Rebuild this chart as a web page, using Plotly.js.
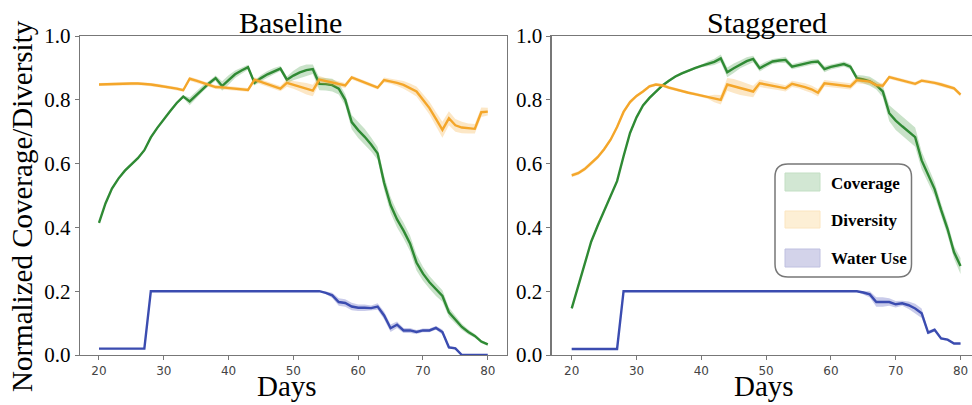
<!DOCTYPE html>
<html>
<head>
<meta charset="utf-8">
<script src="https://cdn.plot.ly/plotly-3.0.1.min.js"></script>
<style>html,body{margin:0;padding:0;background:#fff;}#chart{width:972px;height:405px;}</style>
</head>
<body>
<div id="chart"></div>
<script>
// ---------------- DATA ----------------
const days = [20,21,22,23,24,25,26,27,28,29,30,31,32,33,34,35,36,37,38,39,40,41,42,43,44,45,46,47,48,49,50,
  51,52,53,54,55,56,57,58,59,60,61,62,63,64,65,66,67,68,69,70,71,72,73,74,75,76,77,78,79,80];

const panelTitles = ["Baseline", "Staggered"];
const seriesNames = ["Coverage", "Diversity", "Water Use"];
const xTickVals = [20, 30, 40, 50, 60, 70, 80];
const yTickVals = [0, 0.2, 0.4, 0.6, 0.8, 1.0];

// Baseline
const baseCoverage = [0.414,0.475,0.522,0.553,0.578,0.598,0.617,0.642,0.682,0.712,
  0.740,0.765,0.790,0.810,0.795,0.815,0.835,0.852,0.868,0.843,
  0.862,0.880,0.892,0.902,0.853,0.868,0.880,0.890,0.898,0.863,
  0.876,0.886,0.893,0.896,0.850,0.849,0.846,0.835,0.800,0.730,
  0.705,0.684,0.660,0.632,0.540,0.470,0.425,0.390,0.350,0.290,
  0.255,0.228,0.205,0.185,0.134,0.110,0.088,0.072,0.060,0.042,
  0.033];
const baseCoverageErr = [0.004,0.004,0.004,0.004,0.004,0.004,0.004,0.004,0.004,0.004,0.004,0.004,0.004,0.004,
  0.012,0.012,0.010,0.008,
  0.008,0.015,0.015,0.012,0.010,0.008,
  0.008,0.010,0.010,0.010,0.008,
  0.010,0.015,0.018,0.018,0.015,
  0.020,0.020,0.020,0.018,0.018,
  0.022,0.025,0.025,0.022,0.020,
  0.022,0.025,0.025,0.025,0.025,
  0.025,0.022,0.020,0.020,0.018,
  0.015,0.012,0.010,0.008,0.006,0.005,0.004];

const baseDiversity = [0.848,0.849,0.850,0.850,0.851,0.851,0.851,0.850,0.848,0.845,
  0.842,0.838,0.835,0.830,0.866,0.860,0.853,0.846,0.840,0.839,
  0.837,0.835,0.833,0.831,0.863,0.856,0.849,0.842,0.835,0.853,
  0.847,0.841,0.835,0.829,0.863,0.858,0.853,0.849,0.845,0.870,
  0.862,0.854,0.846,0.838,0.862,0.858,0.853,0.847,0.837,0.826,
  0.800,0.774,0.740,0.706,0.742,0.720,0.713,0.710,0.709,0.761,
  0.763];
const baseDiversityErr = [0.005,0.005,0.005,0.005,0.005,0.005,0.005,0.005,0.005,0.005,0.005,0.005,0.005,0.005,
  0.006,0.006,0.006,0.006,0.006,0.006,0.006,0.006,0.006,0.006,
  0.008,0.008,0.008,0.008,0.008,
  0.012,0.012,0.015,0.018,0.018,
  0.012,0.010,0.010,0.008,0.008,
  0.006,0.006,0.006,0.006,0.006,0.008,0.008,0.010,0.012,0.014,
  0.016,0.018,0.020,0.022,0.025,0.022,0.020,0.018,0.016,0.015,0.015,0.012];

const baseWater = [0.02,0.02,0.02,0.02,0.02,0.02,0.02,0.02,
  0.2,0.2,0.2,0.2,0.2,0.2,0.2,0.2,0.2,0.2,0.2,0.2,0.2,0.2,0.2,0.2,0.2,0.2,0.2,0.2,0.2,0.2,0.2,0.2,0.2,0.2,0.2,
  0.195,0.187,0.166,0.163,0.152,0.148,0.148,0.147,0.152,0.124,0.084,0.095,0.077,0.077,0.072,0.077,0.077,0.085,0.072,
  0.024,0.021,0,0,0,0,0];
const baseWaterErr = [0.002,0.002,0.002,0.002,0.002,0.002,0.002,0.002,0.002,0.002,0.002,0.002,0.002,0.002,0.002,
  0.002,0.002,0.002,0.002,0.002,0.002,0.002,0.002,0.002,0.002,0.002,0.002,0.002,0.002,0.002,0.002,0.002,0.002,0.002,0.002,
  0.004,0.008,0.012,0.012,0.012,0.010,0.010,0.008,0.010,0.012,0.012,0.010,0.008,0.008,0.006,0.006,0.006,0.006,0.008,
  0.004,0.004,0.002,0.001,0.001,0.001,0.001];

// Staggered
const stagCoverage = [0.146,0.215,0.290,0.355,0.405,0.450,0.500,0.545,0.623,0.696,
  0.745,0.782,0.806,0.826,0.845,0.860,0.873,0.883,0.892,0.899,
  0.906,0.913,0.919,0.930,0.886,0.899,0.911,0.921,0.928,0.899,
  0.910,0.920,0.923,0.925,0.904,0.909,0.914,0.918,0.920,0.896,
  0.903,0.908,0.912,0.904,0.868,0.864,0.858,0.846,0.826,0.758,
  0.735,0.717,0.700,0.683,0.610,0.565,0.520,0.455,0.395,0.322,
  0.279];
const stagCoverageErr = [0.004,0.004,0.004,0.004,0.004,0.004,0.004,0.004,0.004,0.004,0.004,
  0.004,0.004,0.004,0.004,0.004,0.004,0.004,0.004,0.004,0.004,
  0.008,0.010,0.012,0.015,0.015,0.012,0.012,0.010,
  0.010,0.010,0.008,0.008,0.010,0.008,0.008,0.008,0.008,0.008,
  0.010,0.008,0.008,0.008,0.008,
  0.010,0.012,0.014,0.014,0.018,
  0.025,0.030,0.030,0.030,0.030,0.028,0.025,0.022,0.020,0.020,0.020,0.025];

const stagDiversity = [0.563,0.570,0.583,0.600,0.620,0.645,0.675,0.715,0.762,0.793,
  0.812,0.826,0.842,0.848,0.845,0.838,0.832,0.826,0.822,0.818,
  0.813,0.808,0.804,0.800,0.848,0.843,0.837,0.831,0.826,0.852,
  0.848,0.844,0.840,0.836,0.850,0.846,0.840,0.833,0.822,0.852,
  0.850,0.847,0.845,0.842,0.862,0.860,0.857,0.846,0.844,0.871,
  0.866,0.860,0.855,0.850,0.860,0.857,0.853,0.848,0.842,0.836,
  0.816];
const stagDiversityErr = [0.006,0.006,0.006,0.006,0.006,0.006,0.006,0.006,0.006,0.006,
  0.005,0.005,0.005,0.005,0.005,0.005,0.005,0.005,0.005,0.005,0.005,0.005,
  0.012,0.015,0.020,0.022,0.022,0.020,0.018,
  0.012,0.012,0.010,0.010,0.010,0.010,0.010,0.012,0.012,0.012,
  0.010,0.010,0.010,0.010,0.010,0.010,0.010,0.010,0.010,0.008,
  0.006,0.006,0.006,0.006,0.006,0.006,0.006,0.006,0.006,0.006,0.006,0.006];

const stagWater = [0.019,0.019,0.019,0.019,0.019,0.019,0.019,0.019,
  0.2,0.2,0.2,0.2,0.2,0.2,0.2,0.2,0.2,0.2,0.2,0.2,0.2,0.2,0.2,0.2,0.2,0.2,0.2,0.2,0.2,0.2,0.2,0.2,0.2,0.2,0.2,0.2,0.2,
  0.2,0.2,0.2,0.2,0.2,0.2,0.2,0.2,
  0.196,0.190,0.166,0.166,0.166,0.159,0.162,0.156,0.146,0.131,0.070,0.079,0.052,0.048,0.036,0.036];
const stagWaterErr = [0.002,0.002,0.002,0.002,0.002,0.002,0.002,0.002,0.002,0.002,0.002,0.002,0.002,0.002,0.002,
  0.002,0.002,0.002,0.002,0.002,0.002,0.002,0.002,0.002,0.002,0.002,0.002,0.002,0.002,0.002,
  0.002,0.002,0.002,0.002,0.002,0.002,0.002,0.002,0.002,0.002,0.002,0.002,0.002,0.002,0.002,
  0.006,0.010,0.015,0.015,0.012,0.010,0.008,0.012,0.015,0.015,0.006,
  0.005,0.004,0.003,0.002,0.002];

// ---------------- STYLE ----------------
const lineColors = ["#2f8a34", "#f4a62a", "#3b4cb0"];
const bandColors = ["rgba(60,150,60,0.28)", "rgba(245,170,50,0.28)", "rgba(60,70,180,0.28)"];
const swatchFill = ["#d2e7d3", "#fdefd5", "#d3d3ea"];
const swatchLine = ["#c3dfc4", "#fbe5c0", "#bfc0e0"];

const W = 972, H = 405, ML = 80, MR = 0, MT = 36, MB = 50;
const PW = W - ML - MR, PH = H - MT - MB;
const px = v => (v - ML) / PW;
const py = v => (H - MB - v) / PH;

function bandTrace(v, e, i, xa, ya) {
  const up = v.map((d, k) => d + e[k]);
  const lo = v.map((d, k) => Math.max(0, d - e[k]));
  return {
    x: days.concat(days.slice().reverse()),
    y: up.concat(lo.slice().reverse()),
    type: "scatter", mode: "lines", fill: "toself",
    fillcolor: bandColors[i], line: {width: 0, color: "rgba(0,0,0,0)"},
    hoverinfo: "skip", showlegend: false, xaxis: xa, yaxis: ya
  };
}
function lineTrace(v, i, xa, ya) {
  return {
    x: days, y: v, type: "scatter", mode: "lines", name: seriesNames[i],
    line: {color: lineColors[i], width: 2.4}, showlegend: false, xaxis: xa, yaxis: ya
  };
}

const panels = [
  [[baseCoverage, baseCoverageErr], [baseDiversity, baseDiversityErr], [baseWater, baseWaterErr]],
  [[stagCoverage, stagCoverageErr], [stagDiversity, stagDiversityErr], [stagWater, stagWaterErr]]
];
const traces = [];
panels.forEach((p, j) => {
  const xa = j === 0 ? "x" : "x2", ya = j === 0 ? "y" : "y2";
  p.forEach((s, i) => {
    traces.push(bandTrace(s[0], s[1], i, xa, ya));
    traces.push(lineTrace(s[0], i, xa, ya));
  });
});

const axisCommon = {
  showgrid: false, zeroline: false, showline: true, linecolor: "#777", linewidth: 1.3,
  ticks: "outside", ticklen: 4, tickcolor: "#777", tickwidth: 1
};
const xCommon = Object.assign({}, axisCommon, {
  tickvals: xTickVals, tickfont: {family: "DejaVu Sans", size: 12, color: "#444"}
});
const yCommon = Object.assign({}, axisCommon, {
  tickvals: yTickVals, tickformat: ".1f", range: [0, 1.0],
  tickfont: {family: "Liberation Serif", size: 21, color: "#000"}
});

// rounded legend box
const bx0 = px(775), bx1 = px(911.5), by0 = py(277), by1 = py(164);
const rx = 13 / PW, ry = 13 / PH;
const boxPath = `M ${bx0+rx},${by1} L ${bx1-rx},${by1} Q ${bx1},${by1} ${bx1},${by1-ry} L ${bx1},${by0+ry} Q ${bx1},${by0} ${bx1-rx},${by0} L ${bx0+rx},${by0} Q ${bx0},${by0} ${bx0},${by0+ry} L ${bx0},${by1-ry} Q ${bx0},${by1} ${bx0+rx},${by1} Z`;

const shapes = [{type: "path", xref: "paper", yref: "paper", path: boxPath,
  line: {color: "#777", width: 1.5}, fillcolor: "rgba(255,255,255,1)"}];
const swatchY = [[173, 191], [211, 228], [249, 267]];
const labelY = [183, 220, 258];
swatchY.forEach((r, i) => {
  shapes.push({type: "rect", xref: "paper", yref: "paper",
    x0: px(785), x1: px(820), y0: py(r[1]), y1: py(r[0]),
    fillcolor: swatchFill[i], line: {color: swatchLine[i], width: 1}});
});

const annotations = [
  {text: panelTitles[0], x: px(290), y: py(22)},
  {text: panelTitles[1], x: px(767), y: py(22)},
  {text: "Days", x: px(287), y: py(389), yanchor: "bottom", yshift: -17},
  {text: "Days", x: px(764), y: py(389), yanchor: "bottom", yshift: -17}
].map(a => Object.assign({xref: "paper", yref: "paper", showarrow: false, xanchor: "center", yanchor: "middle",
  font: {family: "Liberation Serif", size: 30, color: "#000"}}, a));
annotations.forEach(a => { if (a.text === "Days") { a.y = py(386); a.yanchor = "middle"; delete a.yshift; a.font = {family: "Liberation Serif", size: 29, color: "#000"}; } });
annotations.push({text: "Normalized Coverage/Diversity", xref: "paper", yref: "paper", x: px(22), y: py(206),
  showarrow: false, textangle: -90, xanchor: "center", yanchor: "middle",
  font: {family: "Liberation Serif", size: 29, color: "#000"}});
seriesNames.forEach((n, i) => {
  annotations.push({text: "<b>" + n + "</b>", xref: "paper", yref: "paper", x: px(829), y: py(labelY[i]),
    showarrow: false, xanchor: "left", yanchor: "middle",
    font: {family: "Liberation Serif", size: 17, color: "#000"}});
});

const layout = {
  width: W, height: H, margin: {l: ML, r: MR, t: MT, b: MB, pad: 0},
  paper_bgcolor: "#fff", plot_bgcolor: "#fff", showlegend: false,
  xaxis: Object.assign({}, xCommon, {domain: [0, px(506.7)], range: [17.07, 82.92], mirror: true, anchor: "y"}),
  yaxis: Object.assign({}, yCommon, {domain: [0, 1], mirror: true, anchor: "x"}),
  xaxis2: Object.assign({}, xCommon, {domain: [px(551.7), 1], range: [16.91, 81.77], mirror: true, anchor: "y2"}),
  yaxis2: Object.assign({}, yCommon, {domain: [0, 1], anchor: "x2"}),
  shapes: shapes, annotations: annotations
};

Plotly.newPlot("chart", traces, layout, {staticPlot: true, displayModeBar: false});
</script>
</body>
</html>
